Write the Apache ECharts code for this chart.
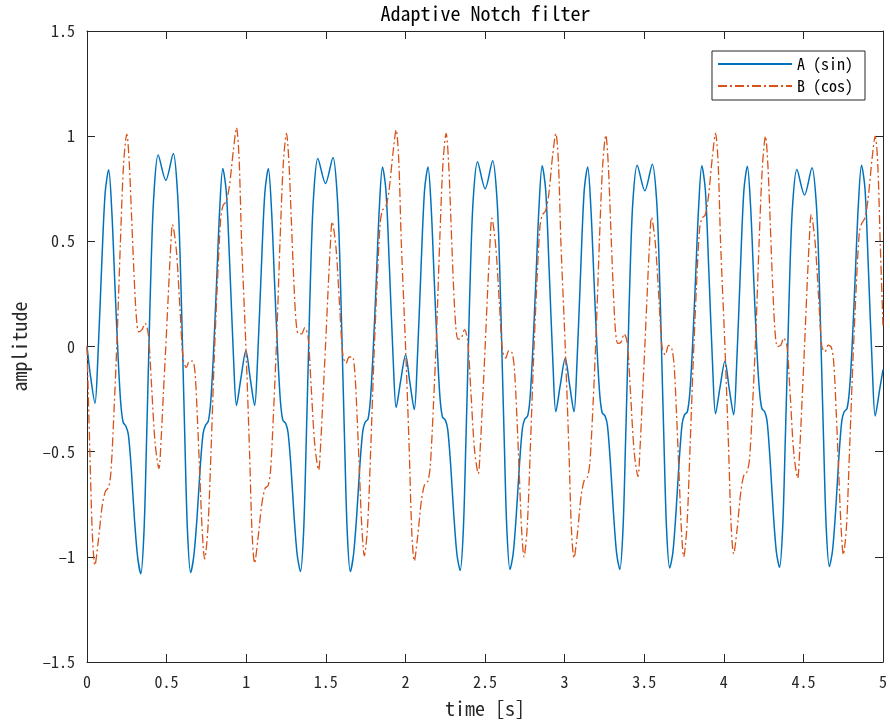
<!DOCTYPE html>
<html>
<head>
<meta charset="utf-8">
<script src="https://cdn.jsdelivr.net/npm/echarts@6/dist/echarts.min.js"></script>
<style>
html,body{margin:0;padding:0;background:#fff;}
#chart{width:890px;height:723px;}
</style>
</head>
<body>
<div id="chart"></div>
<script>
// ---- data ----
const xTicks = [0, 0.5, 1, 1.5, 2, 2.5, 3, 3.5, 4, 4.5, 5];
const yTicks = [-1.5, -1, -0.5, 0, 0.5, 1, 1.5];

// A (sin): time [s] and amplitude
const timeA = [
  0, 0.022, 0.050, 0.068, 0.092, 0.114, 0.136, 0.156, 0.176, 0.196, 0.212, 0.227, 0.245, 0.260, 0.278, 0.298, 0.318, 0.338, 0.358, 0.374, 0.389, 0.404, 0.420, 0.447, 0.495, 0.542, 0.569, 0.585, 0.600, 0.615, 0.631, 0.651, 0.671, 0.691, 0.711, 0.729, 0.744, 0.762, 0.777, 0.793, 0.813, 0.833, 0.853, 0.875, 0.897, 0.921, 0.939, 0.967,
  0.998, 1.025, 1.053, 1.071, 1.095, 1.117, 1.139, 1.159, 1.179, 1.199, 1.215, 1.230, 1.248, 1.263, 1.281, 1.301, 1.321, 1.341, 1.361, 1.377, 1.392, 1.407, 1.423, 1.450, 1.498, 1.545, 1.572, 1.588, 1.603, 1.618, 1.634, 1.654, 1.674, 1.694, 1.714, 1.732, 1.747, 1.765, 1.780, 1.796, 1.816, 1.836, 1.856, 1.878, 1.900, 1.924, 1.942, 1.970,
  2.001, 2.028, 2.056, 2.074, 2.098, 2.120, 2.142, 2.162, 2.182, 2.202, 2.218, 2.233, 2.251, 2.266, 2.284, 2.304, 2.324, 2.344, 2.364, 2.380, 2.395, 2.410, 2.426, 2.453, 2.501, 2.548, 2.575, 2.591, 2.606, 2.621, 2.637, 2.657, 2.677, 2.697, 2.717, 2.735, 2.750, 2.768, 2.783, 2.799, 2.819, 2.839, 2.859, 2.881, 2.903, 2.927, 2.945, 2.973,
  3.004, 3.031, 3.059, 3.077, 3.101, 3.123, 3.145, 3.165, 3.185, 3.205, 3.221, 3.236, 3.254, 3.269, 3.287, 3.307, 3.327, 3.347, 3.367, 3.383, 3.398, 3.413, 3.429, 3.456, 3.504, 3.551, 3.578, 3.594, 3.609, 3.624, 3.640, 3.660, 3.680, 3.700, 3.720, 3.738, 3.753, 3.771, 3.786, 3.802, 3.822, 3.842, 3.862, 3.884, 3.906, 3.930, 3.948, 3.976,
  4.007, 4.034, 4.062, 4.080, 4.104, 4.126, 4.148, 4.168, 4.188, 4.208, 4.224, 4.239, 4.257, 4.272, 4.290, 4.310, 4.330, 4.350, 4.370, 4.386, 4.401, 4.416, 4.432, 4.459, 4.507, 4.554, 4.581, 4.597, 4.612, 4.627, 4.643, 4.663, 4.683, 4.703, 4.723, 4.741, 4.756, 4.774, 4.789, 4.805, 4.825, 4.845, 4.865, 4.887, 4.909, 4.933, 4.951, 4.979, 5.0
];
const sinA = [
  0, -0.14, -0.27, -0.06, 0.38, 0.73, 0.84, 0.64, 0.28, -0.06, -0.27, -0.36, -0.38, -0.42, -0.58, -0.82, -1.0, -1.08, -0.88, -0.45, 0.0, 0.42, 0.72, 0.91, 0.79, 0.918, 0.725, 0.425, 0.0, -0.45, -0.875, -1.075, -0.995, -0.815, -0.575, -0.415, -0.375, -0.355, -0.265, -0.055, 0.285, 0.645, 0.846, 0.735, 0.38, -0.065, -0.28, -0.15,
  -0.02, -0.15, -0.28, -0.07, 0.37, 0.73, 0.846, 0.65, 0.29, -0.05, -0.26, -0.35, -0.365, -0.41, -0.57, -0.81, -0.995, -1.07, -0.875, -0.45, -0.01, 0.41, 0.71, 0.894, 0.775, 0.899, 0.715, 0.415, -0.01, -0.45, -0.87, -1.07, -0.99, -0.805, -0.565, -0.405, -0.36, -0.345, -0.255, -0.045, 0.295, 0.655, 0.854, 0.74, 0.37, -0.075, -0.29, -0.165,
  -0.04, -0.17, -0.30, -0.08, 0.37, 0.74, 0.854, 0.66, 0.30, -0.04, -0.25, -0.335, -0.35, -0.395, -0.56, -0.80, -0.99, -1.065, -0.87, -0.45, -0.02, 0.40, 0.70, 0.878, 0.75, 0.883, 0.705, 0.405, -0.02, -0.45, -0.865, -1.06, -0.985, -0.795, -0.555, -0.39, -0.345, -0.33, -0.245, -0.035, 0.305, 0.66, 0.859, 0.745, 0.365, -0.085, -0.31, -0.183,
  -0.056, -0.18, -0.31, -0.09, 0.36, 0.74, 0.854, 0.66, 0.31, -0.03, -0.23, -0.315, -0.33, -0.375, -0.545, -0.79, -0.985, -1.06, -0.865, -0.45, -0.02, 0.39, 0.69, 0.862, 0.74, 0.867, 0.695, 0.395, -0.02, -0.45, -0.86, -1.053, -0.98, -0.785, -0.54, -0.37, -0.325, -0.31, -0.225, -0.025, 0.315, 0.665, 0.859, 0.745, 0.36, -0.095, -0.32, -0.195,
  -0.07, -0.2, -0.325, -0.10, 0.36, 0.74, 0.857, 0.67, 0.32, -0.02, -0.21, -0.295, -0.31, -0.355, -0.53, -0.78, -0.975, -1.05, -0.86, -0.45, -0.03, 0.38, 0.67, 0.841, 0.72, 0.85, 0.68, 0.385, -0.03, -0.45, -0.855, -1.046, -0.97, -0.775, -0.525, -0.355, -0.31, -0.295, -0.21, -0.015, 0.325, 0.67, 0.862, 0.75, 0.355, -0.105, -0.33, -0.205, -0.11
];

// B (cos): time [s] and amplitude
const timeB = [
  0, 0.018, 0.034, 0.050, 0.070, 0.095, 0.115, 0.135, 0.150, 0.170, 0.190, 0.210, 0.230, 0.250, 0.265, 0.280, 0.295, 0.310, 0.325, 0.345, 0.365, 0.385, 0.405, 0.428, 0.452, 0.465, 0.480, 0.495, 0.509, 0.524, 0.537, 0.561, 0.584, 0.604, 0.624, 0.644, 0.664, 0.679, 0.694, 0.709, 0.724, 0.739, 0.759, 0.779, 0.799, 0.819, 0.839, 0.854, 0.874, 0.894, 0.919, 0.939, 0.955, 0.971,
  0.998, 1.021, 1.037, 1.053, 1.073, 1.098, 1.118, 1.138, 1.153, 1.173, 1.193, 1.213, 1.233, 1.253, 1.268, 1.283, 1.298, 1.313, 1.328, 1.348, 1.368, 1.388, 1.408, 1.431, 1.455, 1.468, 1.483, 1.498, 1.512, 1.527, 1.540, 1.564, 1.587, 1.607, 1.627, 1.647, 1.667, 1.682, 1.697, 1.712, 1.727, 1.742, 1.762, 1.782, 1.802, 1.822, 1.842, 1.857, 1.877, 1.897, 1.922, 1.942, 1.958, 1.974,
  2.001, 2.024, 2.040, 2.056, 2.076, 2.101, 2.121, 2.141, 2.156, 2.176, 2.196, 2.216, 2.236, 2.256, 2.271, 2.286, 2.301, 2.316, 2.331, 2.351, 2.371, 2.391, 2.411, 2.434, 2.458, 2.471, 2.486, 2.501, 2.515, 2.530, 2.543, 2.567, 2.590, 2.610, 2.630, 2.650, 2.670, 2.685, 2.700, 2.715, 2.730, 2.745, 2.765, 2.785, 2.805, 2.825, 2.845, 2.860, 2.880, 2.900, 2.925, 2.945, 2.961, 2.977,
  3.004, 3.027, 3.043, 3.059, 3.079, 3.104, 3.124, 3.144, 3.159, 3.179, 3.199, 3.219, 3.239, 3.259, 3.274, 3.289, 3.304, 3.319, 3.334, 3.354, 3.374, 3.394, 3.414, 3.437, 3.461, 3.474, 3.489, 3.504, 3.518, 3.533, 3.546, 3.570, 3.593, 3.613, 3.633, 3.653, 3.673, 3.688, 3.703, 3.718, 3.733, 3.748, 3.768, 3.788, 3.808, 3.828, 3.848, 3.863, 3.883, 3.903, 3.928, 3.948, 3.964, 3.980,
  4.007, 4.030, 4.046, 4.062, 4.082, 4.107, 4.127, 4.147, 4.162, 4.182, 4.202, 4.222, 4.242, 4.262, 4.277, 4.292, 4.307, 4.322, 4.337, 4.357, 4.377, 4.397, 4.417, 4.440, 4.464, 4.477, 4.492, 4.507, 4.521, 4.536, 4.549, 4.573, 4.596, 4.616, 4.636, 4.656, 4.676, 4.691, 4.706, 4.721, 4.736, 4.751, 4.771, 4.791, 4.811, 4.831, 4.851, 4.866, 4.886, 4.906, 4.931, 4.951, 4.967, 4.983, 5.0
];
const cosB = [
  0.0, -0.50, -0.90, -1.04, -0.93, -0.76, -0.69, -0.67, -0.60, -0.30, 0.06, 0.50, 0.87, 1.01, 0.88, 0.62, 0.35, 0.14, 0.07, 0.08, 0.11, 0.06, -0.18, -0.46, -0.58, -0.45, -0.22, 0.0, 0.22, 0.45, 0.58, 0.46, 0.18, -0.06, -0.10, -0.07, -0.07, -0.13, -0.35, -0.62, -0.88, -1.01, -0.87, -0.50, -0.06, 0.30, 0.60, 0.67, 0.69, 0.76, 0.93, 1.04, 0.90, 0.50,
  0.0, -0.50, -0.89, -1.03, -0.92, -0.75, -0.675, -0.66, -0.59, -0.29, 0.07, 0.51, 0.87, 1.013, 0.88, 0.61, 0.33, 0.12, 0.06, 0.06, 0.09, 0.05, -0.19, -0.47, -0.587, -0.46, -0.23, 0.0, 0.23, 0.46, 0.593, 0.47, 0.19, -0.04, -0.08, -0.05, -0.05, -0.12, -0.34, -0.61, -0.87, -0.995, -0.86, -0.49, -0.06, 0.30, 0.59, 0.65, 0.665, 0.74, 0.92, 1.03, 0.89, 0.50,
  0.0, -0.49, -0.88, -1.02, -0.91, -0.73, -0.655, -0.64, -0.57, -0.28, 0.07, 0.51, 0.87, 1.013, 0.88, 0.60, 0.31, 0.10, 0.035, 0.04, 0.08, 0.03, -0.21, -0.49, -0.605, -0.47, -0.24, 0.0, 0.24, 0.47, 0.61, 0.48, 0.21, -0.02, -0.055, -0.02, -0.03, -0.11, -0.33, -0.60, -0.87, -1.0, -0.86, -0.48, -0.06, 0.29, 0.57, 0.625, 0.645, 0.72, 0.91, 1.013, 0.88, 0.49,
  0.0, -0.49, -0.87, -1.006, -0.90, -0.71, -0.635, -0.62, -0.55, -0.27, 0.08, 0.51, 0.86, 1.005, 0.87, 0.59, 0.30, 0.08, 0.015, 0.02, 0.06, 0.015, -0.22, -0.50, -0.618, -0.48, -0.24, 0.0, 0.24, 0.48, 0.614, 0.49, 0.22, -0.01, -0.04, 0.005, -0.01, -0.09, -0.32, -0.59, -0.86, -1.0, -0.86, -0.48, -0.07, 0.28, 0.56, 0.61, 0.625, 0.71, 0.90, 1.013, 0.88, 0.49,
  0.0, -0.48, -0.85, -0.986, -0.88, -0.69, -0.61, -0.595, -0.53, -0.26, 0.08, 0.50, 0.85, 1.0, 0.86, 0.58, 0.29, 0.07, 0.0, 0.005, 0.04, 0.0, -0.23, -0.51, -0.626, -0.49, -0.25, 0.0, 0.25, 0.49, 0.628, 0.50, 0.23, 0.0, -0.025, 0.007, -0.005, -0.08, -0.31, -0.58, -0.85, -0.99, -0.85, -0.47, -0.07, 0.27, 0.54, 0.585, 0.61, 0.70, 0.89, 1.0, 0.87, 0.48, 0.1
];

const seriesNames = ['A (sin)', 'B (cos)'];
const titleText = 'Adaptive Notch filter';
const xName = 'time [s]';
const yName = 'amplitude';

// ---- chart ----
const FONT = "'Noto Sans Mono CJK JP', 'DejaVu Sans Mono', monospace";
const AX = '#262626';
const chart = echarts.init(document.getElementById('chart'), null, {renderer: 'canvas'});

function pairs(t, v) { return t.map((x, i) => [x, v[i]]); }
function fmt(v) { return String(v).replace('-', '\u2013'); }

const baseX = {
  type: 'value', min: xTicks[0], max: xTicks[xTicks.length - 1], interval: xTicks[1] - xTicks[0],
  axisLine: {show: true, onZero: false, lineStyle: {color: AX, width: 1}},
  axisTick: {show: true, inside: true, length: 8, lineStyle: {color: AX}},
  splitLine: {show: false}
};
const baseY = {
  type: 'value', min: yTicks[0], max: yTicks[yTicks.length - 1], interval: yTicks[1] - yTicks[0],
  axisLine: {show: true, onZero: false, lineStyle: {color: AX, width: 1}},
  axisTick: {show: true, inside: true, length: 8, lineStyle: {color: AX}},
  splitLine: {show: false}
};

chart.setOption({
  animation: false,
  backgroundColor: '#ffffff',
  textStyle: {fontFamily: FONT},
  grid: {left: 87, right: 6, top: 31, bottom: 61, containLabel: false},
  graphic: [{
    type: 'text', x: 485.5, y: 13,
    style: {text: titleText, font: "20px " + FONT, fill: '#000', align: 'center', verticalAlign: 'middle'}
  }],
  legend: {
    orient: 'vertical', right: 25, top: 51,
    data: seriesNames,
    itemWidth: 74, itemHeight: 16, itemGap: 6,
    padding: [5, 12, 6, 5],
    borderColor: '#262626', borderWidth: 1, backgroundColor: '#fff',
    itemStyle: {opacity: 0},
    textStyle: {fontSize: 16, fontFamily: FONT, color: '#000'}
  },
  xAxis: [
    Object.assign({}, baseX, {
      position: 'bottom',
      axisLabel: {show: true, margin: 12, color: AX, fontSize: 16, fontFamily: FONT, formatter: fmt},
      name: xName, nameLocation: 'middle', nameGap: 36,
      nameTextStyle: {fontSize: 20, fontFamily: FONT, color: AX}
    }),
    Object.assign({}, baseX, {position: 'top', axisLabel: {show: false}})
  ],
  yAxis: [
    Object.assign({}, baseY, {
      position: 'left',
      axisLabel: {show: true, margin: 12, color: AX, fontSize: 16, fontFamily: FONT, formatter: fmt},
      name: yName, nameLocation: 'middle', nameGap: 58, nameRotate: 90,
      nameTextStyle: {fontSize: 20, fontFamily: FONT, color: AX}
    }),
    Object.assign({}, baseY, {position: 'right', axisLabel: {show: false}})
  ],
  series: [
    {
      name: seriesNames[0], type: 'line', data: pairs(timeA, sinA),
      xAxisIndex: 0, yAxisIndex: 0,
      symbol: 'none', showSymbol: false, smooth: 0.3,
      lineStyle: {color: '#0072BD', width: 1.5}, itemStyle: {color: '#0072BD'}
    },
    {
      name: seriesNames[1], type: 'line', data: pairs(timeB, cosB),
      xAxisIndex: 0, yAxisIndex: 0,
      symbol: 'none', showSymbol: false, smooth: 0.3,
      lineStyle: {color: '#D95319', width: 1.3, type: [9, 3, 2, 3]}, itemStyle: {color: '#D95319'}
    }
  ]
});
</script>
</body>
</html>
